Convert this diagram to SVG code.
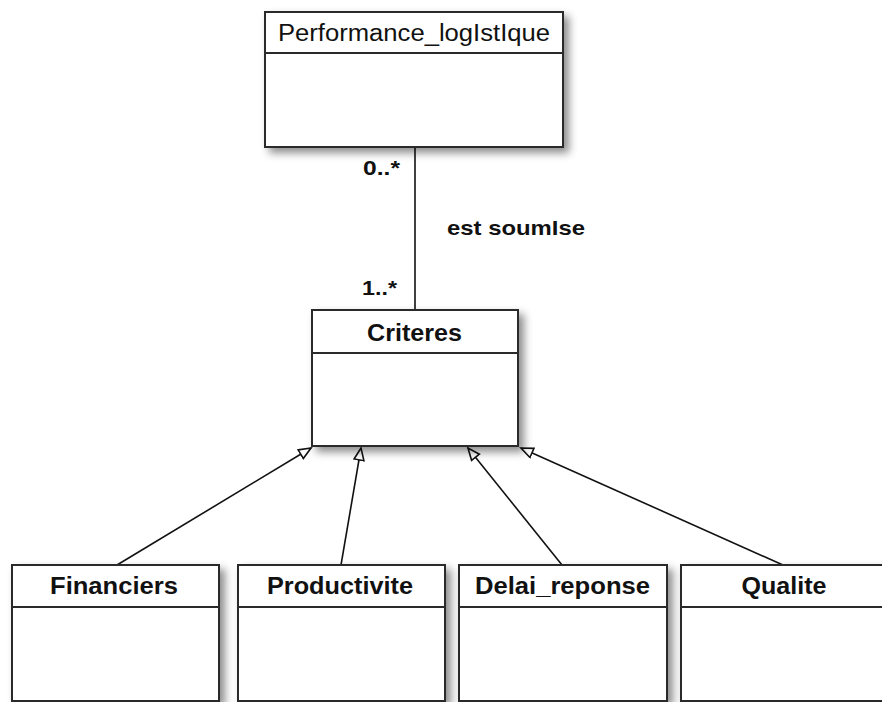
<svg xmlns="http://www.w3.org/2000/svg" width="882" height="702" viewBox="0 0 882 702">
<style>
.box{fill:#fff;stroke:#2a2a2a;stroke-width:2}
.div{stroke:#2a2a2a;stroke-width:2}
.t{font-family:"Liberation Sans",Arial,sans-serif;font-size:23px;fill:#111;text-anchor:middle}
.b{font-weight:bold}
.lbl{font-family:"Liberation Sans",Arial,sans-serif;font-size:21px;font-weight:bold;fill:#111}
.conn{stroke:#111;stroke-width:1.6;fill:none}
</style>
<defs>
<filter id="sh" x="-10%" y="-10%" width="130%" height="130%">
<feDropShadow dx="5" dy="5" stdDeviation="4" flood-color="#000" flood-opacity="0.45"/>
</filter>
<marker id="gen" markerUnits="userSpaceOnUse" markerWidth="16" markerHeight="14" refX="13" refY="6" orient="auto">
<path d="M1,1 L13,6 L1,11 Z" fill="#fff" stroke="#111" stroke-width="1.6"/>
</marker>
</defs>
<rect width="882" height="702" fill="#fff"/>
<g id="connectors">
<line class="conn" x1="415" y1="147" x2="415" y2="310"/>
<line class="conn" x1="117" y1="565" x2="311" y2="448" marker-end="url(#gen)"/>
<line class="conn" x1="341" y1="565" x2="361" y2="448" marker-end="url(#gen)"/>
<line class="conn" x1="562" y1="565" x2="468" y2="448" marker-end="url(#gen)"/>
<line class="conn" x1="783" y1="565" x2="521" y2="448" marker-end="url(#gen)"/>
<text class="lbl" x="363" y="175" textLength="37" lengthAdjust="spacingAndGlyphs">0..*</text>
<text class="lbl" x="447" y="235" textLength="138" lengthAdjust="spacingAndGlyphs">est soumIse</text>
<text class="lbl" x="362" y="295" textLength="35" lengthAdjust="spacingAndGlyphs">1..*</text>
</g>
<g id="performance">
<rect class="box" x="265" y="12" width="298" height="135" filter="url(#sh)"/>
<line class="div" x1="265" y1="53" x2="563" y2="53"/>
<text class="t" x="414" y="41" textLength="272" lengthAdjust="spacingAndGlyphs">Performance_logIstIque</text>
</g>
<g id="criteres">
<rect class="box" x="312" y="310" width="206" height="136" filter="url(#sh)"/>
<line class="div" x1="312" y1="353" x2="518" y2="353"/>
<text class="t b" x="414.5" y="341" textLength="95" lengthAdjust="spacingAndGlyphs">Criteres</text>
</g>
<g id="financiers">
<rect class="box" x="12" y="565" width="207" height="136" filter="url(#sh)"/>
<line class="div" x1="12" y1="607" x2="219" y2="607"/>
<text class="t b" x="114" y="594" textLength="128" lengthAdjust="spacingAndGlyphs">Financiers</text>
</g>
<g id="productivite">
<rect class="box" x="238" y="565" width="207" height="136" filter="url(#sh)"/>
<line class="div" x1="238" y1="607" x2="445" y2="607"/>
<text class="t b" x="340" y="594" textLength="146" lengthAdjust="spacingAndGlyphs">Productivite</text>
</g>
<g id="delai_reponse">
<rect class="box" x="459" y="565" width="208" height="136" filter="url(#sh)"/>
<line class="div" x1="459" y1="607" x2="667" y2="607"/>
<text class="t b" x="562.5" y="594" textLength="175" lengthAdjust="spacingAndGlyphs">Delai_reponse</text>
</g>
<g id="qualite">
<rect class="box" x="681" y="565" width="210" height="136" filter="url(#sh)"/>
<line class="div" x1="681" y1="607" x2="891" y2="607"/>
<text class="t b" x="784" y="594" textLength="85" lengthAdjust="spacingAndGlyphs">Qualite</text>
</g>
</svg>
